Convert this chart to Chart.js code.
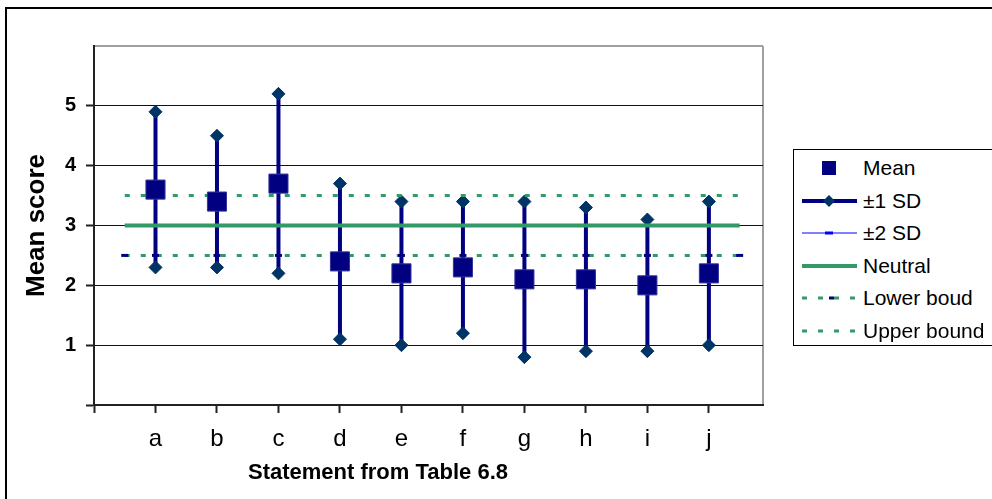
<!DOCTYPE html>
<html>
<head>
<meta charset="utf-8">
<script src="https://cdn.jsdelivr.net/npm/chart.js@4.4.0/dist/chart.umd.min.js"></script>
<style>
  html, body { margin: 0; padding: 0; background: #fff; }
  body { width: 992px; height: 499px; overflow: hidden; position: relative;
         font-family: "Liberation Sans", Arial, sans-serif; }
  #frame { position: absolute; left: 5px; top: 7px; width: 1200px; height: 700px;
           border: 2px solid #000; box-sizing: border-box; }
  #chart { position: absolute; left: 0; top: 0; }
  #legend { position: absolute; left: 793px; top: 149px; width: 260px; height: 197px;
            border: 1px solid #000; background: #fff; box-sizing: border-box; }
  .item { position: absolute; left: 0; width: 100%; height: 32px; }
  .item svg { position: absolute; left: 8px; top: 6px; }
  .item span { position: absolute; left: 69px; top: 0; font-size: 21px; line-height: 32px;
               color: #000; white-space: nowrap; }
</style>
</head>
<body>
<div id="frame"></div>
<canvas id="chart" width="992" height="499"></canvas>
<div id="legend"></div>
<script>
// Statements and their scores
const categories = ['a', 'b', 'c', 'd', 'e', 'f', 'g', 'h', 'i', 'j'];
const meanScores = [3.6, 3.4, 3.7, 2.4, 2.2, 2.3, 2.1, 2.1, 2.0, 2.2];
const sdUpper    = [4.9, 4.5, 5.2, 3.7, 3.4, 3.4, 3.4, 3.3, 3.1, 3.4];
const sdLower    = [2.3, 2.3, 2.2, 1.1, 1.0, 1.2, 0.8, 0.9, 0.9, 1.0];
const neutralScore = 3;
const lowerBound = 2.5;
const upperBound = 3.5;
const yTickValues = [1, 2, 3, 4, 5];
const seriesNames = ['Mean', '\u00b11 SD', '\u00b12 SD', 'Neutral', 'Lower boud', 'Upper bound'];
const xAxisTitle = 'Statement from Table 6.8';
const yAxisTitle = 'Mean score';

const NAVY = '#000080';
const DIAMOND = '#003366';
const GREEN = '#339966';
const BLUE = '#0000ff';
const FONT = '"Liberation Sans", Arial, sans-serif';

const X_MAX = 10.88;
const Y_MAX = 6;
const lineStart = 0.5;
const lineEnd = categories.length + 0.5;

// Series built from the arrays above
const meanPoints = categories.map((c, i) => ({ x: i + 1, y: meanScores[i] }));
const sdPoints = [];
categories.forEach((c, i) => {
  sdPoints.push({ x: i + 1, y: sdLower[i] }, { x: i + 1, y: sdUpper[i] }, { x: i + 1, y: null });
});
const neutralPoints = [{ x: lineStart, y: neutralScore }, { x: lineEnd, y: neutralScore }];
const lowerPoints = [{ x: lineStart, y: lowerBound }]
  .concat(categories.map((c, i) => ({ x: i + 1, y: lowerBound })))
  .concat([{ x: lineEnd, y: lowerBound }]);
const upperPoints = [{ x: lineStart, y: upperBound }, { x: lineEnd, y: upperBound }];

// x axis title, centred under the category labels
const xTitlePlugin = {
  id: 'xTitle',
  afterDraw(chart) {
    const ctx = chart.ctx;
    ctx.save();
    ctx.font = 'bold 22px ' + FONT;
    ctx.fillStyle = '#000';
    ctx.textAlign = 'center';
    ctx.textBaseline = 'middle';
    ctx.fillText(xAxisTitle, chart.chartArea.left + 284, 473);
    ctx.restore();
  }
};

const isVal = (c, v) => c.tick && Math.abs(c.tick.value - v) < 1e-9;

new Chart(document.getElementById('chart').getContext('2d'), {
  type: 'line',
  data: {
    datasets: [
      { label: seriesNames[0], data: meanPoints, showLine: false, clip: false,
        pointStyle: 'rect', pointRadius: 13.5, pointHoverRadius: 13.5,
        pointBackgroundColor: NAVY, pointBorderColor: '#34349a', pointBorderWidth: 1 },
      { label: seriesNames[5], data: upperPoints, clip: false,
        borderColor: GREEN, borderWidth: 3, borderDash: [5, 11], pointRadius: 0 },
      { label: seriesNames[4], data: lowerPoints, clip: false,
        borderColor: GREEN, borderWidth: 3, borderDash: [5, 11],
        pointStyle: 'line', pointRadius: 3.5, pointHoverRadius: 3.5,
        pointBorderColor: NAVY, pointBorderWidth: 3 },
      { label: seriesNames[3], data: neutralPoints, clip: false,
        borderColor: GREEN, borderWidth: 4, pointRadius: 0 },
      { label: seriesNames[1], data: sdPoints, spanGaps: false, clip: false,
        borderColor: NAVY, borderWidth: 4,
        pointStyle: 'rectRot', pointRadius: 6.5, pointHoverRadius: 6.5,
        pointBackgroundColor: DIAMOND, pointBorderColor: DIAMOND, pointBorderWidth: 1 }
    ]
  },
  options: {
    responsive: false,
    animation: false,
    devicePixelRatio: 1,
    events: [],
    layout: { padding: { left: 0, top: 46, right: 229, bottom: 0 } },
    plugins: { legend: { display: false }, tooltip: { enabled: false } },
    scales: {
      x: {
        type: 'linear', min: 0, max: X_MAX,
        afterBuildTicks: s => {
          s.ticks = categories.map((c, i) => ({ value: i })).concat([{ value: categories.length }, { value: X_MAX }]);
        },
        afterFit: s => { s.height = 94; },
        grid: {
          drawOnChartArea: true, drawTicks: true, tickLength: 8,
          color: c => isVal(c, X_MAX) ? '#a0a0a0' : 'rgba(0,0,0,0)',
          lineWidth: c => isVal(c, X_MAX) ? 2 : 1,
          tickColor: c => isVal(c, X_MAX) ? 'rgba(0,0,0,0)' : '#222',
          tickWidth: 2
        },
        border: { display: true, color: '#222', width: 2 },
        ticks: {
          autoSkip: false, maxRotation: 0, minRotation: 0, padding: 12, color: '#000',
          font: { family: FONT, size: 24 },
          callback: v => (Number.isInteger(v) && v >= 1 && v <= categories.length) ? categories[v - 1] : ''
        },
        title: { display: false }
      },
      y: {
        type: 'linear', min: 0, max: Y_MAX,
        afterBuildTicks: s => {
          s.ticks = [0].concat(yTickValues).concat([Y_MAX]).map(v => ({ value: v }));
        },
        afterFit: s => { s.width = 94; },
        grid: {
          drawOnChartArea: true, drawTicks: true, tickLength: 8,
          color: c => isVal(c, Y_MAX) ? '#a0a0a0' : (isVal(c, 0) ? 'rgba(0,0,0,0)' : '#111'),
          lineWidth: c => isVal(c, Y_MAX) ? 2 : 1,
          tickColor: c => isVal(c, Y_MAX) ? 'rgba(0,0,0,0)' : '#222',
          tickWidth: 2
        },
        border: { display: true, color: '#222', width: 2 },
        ticks: {
          autoSkip: false, padding: 10, color: '#000',
          font: { family: FONT, size: 20, weight: 'bold' },
          callback: v => yTickValues.includes(v) ? String(v) : ''
        },
        title: {
          display: true, text: yAxisTitle, color: '#000',
          font: { family: FONT, size: 26, weight: 'bold' },
          padding: { top: 21, bottom: 0 }
        }
      }
    }
  },
  plugins: [xTitlePlugin]
});

// Legend box
const legendSymbols = [
  '<rect x="20" y="3" width="14" height="14" fill="' + NAVY + '"/>',
  '<line x1="0" y1="10" x2="55" y2="10" stroke="' + NAVY + '" stroke-width="4"/>' +
    '<polygon points="27,4 33,10 27,16 21,10" fill="' + DIAMOND + '"/>',
  '<line x1="0" y1="10" x2="55" y2="10" stroke="' + BLUE + '" stroke-width="1"/>' +
    '<rect x="23" y="8.5" width="8" height="3" fill="' + BLUE + '"/>',
  '<line x1="0" y1="10" x2="55" y2="10" stroke="' + GREEN + '" stroke-width="4"/>',
  '<line x1="0" y1="10" x2="55" y2="10" stroke="' + GREEN + '" stroke-width="3" stroke-dasharray="5 11"/>' +
    '<rect x="27" y="8.5" width="5" height="3" fill="' + NAVY + '"/>',
  '<line x1="0" y1="10" x2="55" y2="10" stroke="' + GREEN + '" stroke-width="3" stroke-dasharray="5 11"/>'
];
const legend = document.getElementById('legend');
seriesNames.forEach((name, i) => {
  const row = document.createElement('div');
  row.className = 'item';
  row.style.top = (2 + i * 32.6) + 'px';
  row.innerHTML = '<svg width="60" height="20" viewBox="0 0 60 20">' + legendSymbols[i] + '</svg>' +
                  '<span>' + name + '</span>';
  legend.appendChild(row);
});
</script>
</body>
</html>
